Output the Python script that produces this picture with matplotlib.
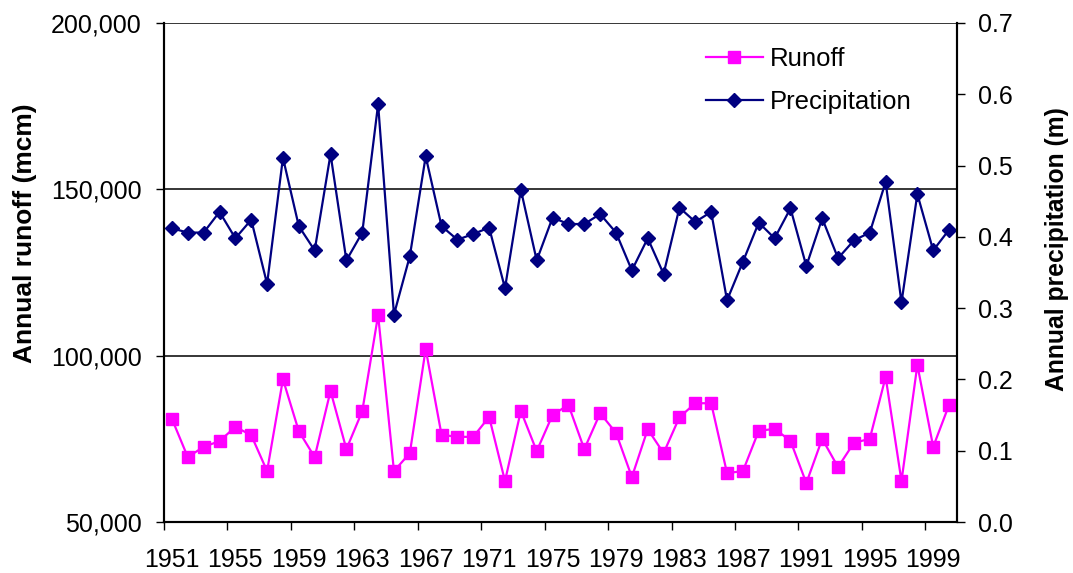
import matplotlib.pyplot as plt
import numpy as np
from matplotlib import ticker

plt.rcParams['font.family'] = ['Liberation Sans', 'DejaVu Sans']
plt.rcParams['font.size'] = 18

years = list(range(1951, 2001))

# annual runoff (mcm), left axis
runoff = [81000, 69500, 72600, 74300, 78600, 76100, 65300, 92900, 77300, 69500,
          89400, 71900, 83300, 112200, 65300, 70700, 102000, 76200, 75600, 75600,
          81600, 62300, 83400, 71300, 82200, 85200, 71900, 82700, 76800, 63500,
          77900, 70700, 81500, 85700, 85700, 64700, 65300, 77400, 78000, 74400,
          61700, 75000, 66500, 73800, 75000, 93600, 62300, 97200, 72600, 85200]

# annual precipitation (m), right axis
precip = [0.412, 0.406, 0.406, 0.435, 0.398, 0.424, 0.334, 0.511, 0.415, 0.381,
          0.516, 0.367, 0.406, 0.586, 0.291, 0.373, 0.513, 0.415, 0.396, 0.404,
          0.413, 0.328, 0.466, 0.367, 0.427, 0.418, 0.418, 0.432, 0.406, 0.353,
          0.398, 0.348, 0.441, 0.421, 0.435, 0.311, 0.365, 0.420, 0.398, 0.440,
          0.359, 0.426, 0.370, 0.395, 0.406, 0.477, 0.308, 0.460, 0.381, 0.410]

x = np.arange(len(years))

fig = plt.figure(figsize=(10.73, 5.73), dpi=100)
ax1 = fig.add_axes([164/1073, 1 - 522/573, 793/1073, 499/573])
ax2 = ax1.twinx()

ax1.plot(x, runoff, color='#FF00FF', lw=1.6, marker='s', ms=9,
         label='Runoff', clip_on=False)
ax2.plot(x, precip, color='#000080', lw=1.6, marker='D', ms=7.5,
         label='Precipitation', clip_on=False)

ax1.set_xlim(-0.5, len(years) - 0.5)
ax1.set_ylim(50000, 200000)
ax2.set_ylim(0, 0.7)

ax1.set_yticks([50000, 100000, 150000, 200000])
ax1.yaxis.set_major_formatter(ticker.FuncFormatter(lambda v, p: f'{int(v):,}'))
ax2.set_yticks(np.arange(0, 0.71, 0.1))
ax2.yaxis.set_major_formatter(ticker.FormatStrFormatter('%.1f'))

# labels sit on every 4th year, tick marks on the category boundaries
ax1.set_xticks(x[::4])
ax1.set_xticklabels([str(y) for y in years[::4]])
ax1.set_xticks(np.arange(-0.5, len(years) - 1, 4), minor=True)
ax1.tick_params(axis='x', which='major', length=0, pad=19)
ax1.tick_params(axis='x', which='minor', length=6, width=1, direction='out')
ax1.tick_params(axis='y', length=6, width=1, direction='out', pad=10)
ax2.tick_params(axis='y', length=6, width=1, direction='out', pad=9)

ax1.yaxis.grid(True, color='black', lw=1.1)
ax1.set_axisbelow(True)
for ax in (ax1, ax2):
    ax.spines['top'].set_visible(False)
    for s in ('left', 'right', 'bottom'):
        ax.spines[s].set_linewidth(1.5)

fig.text(25/1073, 1 - 233/573, 'Annual runoff (mcm)', rotation=90,
         ha='center', va='center', fontweight='bold', fontsize=19)
fig.text(1057/1073, 1 - 249/573, 'Annual precipitation (m)', rotation=90,
         ha='center', va='center', fontweight='bold', fontsize=17.8)

h1, l1 = ax1.get_legend_handles_labels()
h2, l2 = ax2.get_legend_handles_labels()
fig.legend(h1 + h2, l1 + l2, loc='upper left',
           bbox_to_anchor=(706/1073, 1 - 47/573), frameon=False,
           handlelength=2.2, handletextpad=0.3, labelspacing=0.75,
           borderpad=0, borderaxespad=0, fontsize=18.5)

fig.savefig('out.png', dpi=100)
